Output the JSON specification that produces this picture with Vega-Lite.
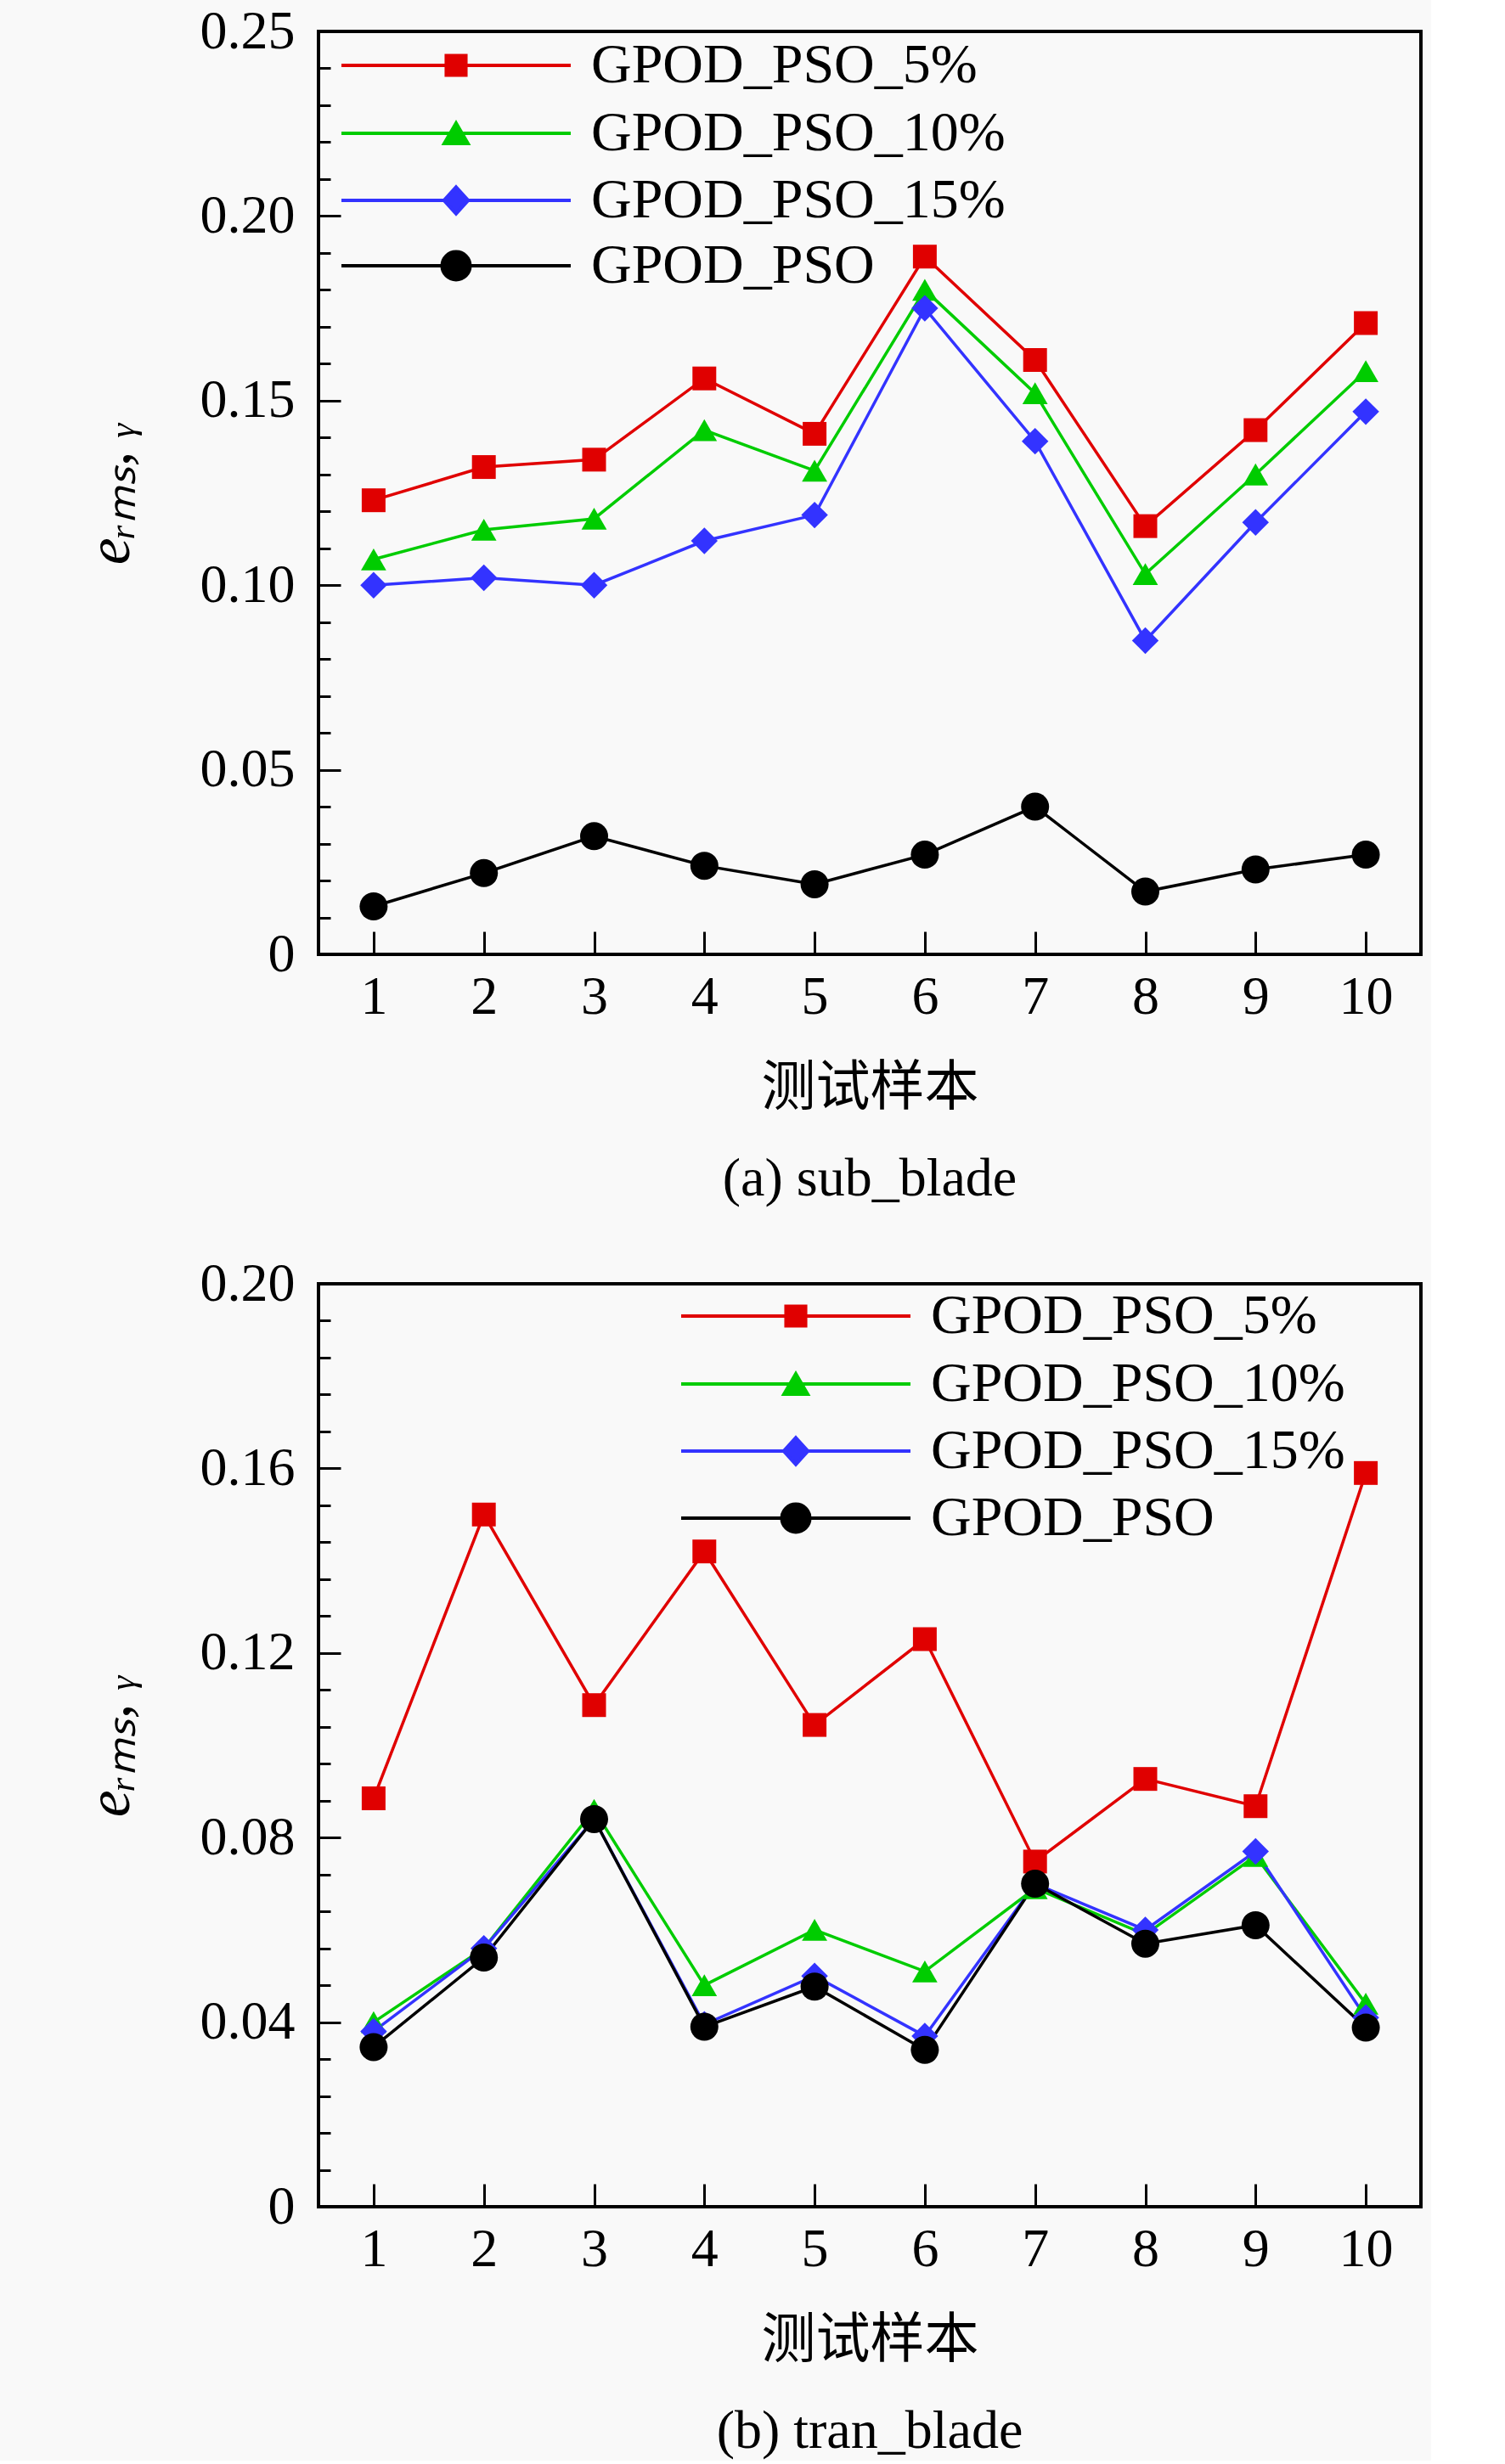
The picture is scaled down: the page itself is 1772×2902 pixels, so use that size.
{
  "$schema": "https://vega.github.io/schema/vega-lite/v6.json",
  "background": "#f9f9f9",
  "padding": {"left": 91, "top": 3, "right": 10, "bottom": 0},
  "spacing": 55,
  "datasets": {
    "a": [
      {"sample": 1, "series": "GPOD_PSO_5%", "value": 0.123},
      {"sample": 2, "series": "GPOD_PSO_5%", "value": 0.132},
      {"sample": 3, "series": "GPOD_PSO_5%", "value": 0.134},
      {"sample": 4, "series": "GPOD_PSO_5%", "value": 0.156},
      {"sample": 5, "series": "GPOD_PSO_5%", "value": 0.141},
      {"sample": 6, "series": "GPOD_PSO_5%", "value": 0.189},
      {"sample": 7, "series": "GPOD_PSO_5%", "value": 0.161},
      {"sample": 8, "series": "GPOD_PSO_5%", "value": 0.116},
      {"sample": 9, "series": "GPOD_PSO_5%", "value": 0.142},
      {"sample": 10, "series": "GPOD_PSO_5%", "value": 0.171},
      {"sample": 1, "series": "GPOD_PSO_10%", "value": 0.107},
      {"sample": 2, "series": "GPOD_PSO_10%", "value": 0.115},
      {"sample": 3, "series": "GPOD_PSO_10%", "value": 0.118},
      {"sample": 4, "series": "GPOD_PSO_10%", "value": 0.142},
      {"sample": 5, "series": "GPOD_PSO_10%", "value": 0.131},
      {"sample": 6, "series": "GPOD_PSO_10%", "value": 0.180},
      {"sample": 7, "series": "GPOD_PSO_10%", "value": 0.152},
      {"sample": 8, "series": "GPOD_PSO_10%", "value": 0.103},
      {"sample": 9, "series": "GPOD_PSO_10%", "value": 0.130},
      {"sample": 10, "series": "GPOD_PSO_10%", "value": 0.158},
      {"sample": 1, "series": "GPOD_PSO_15%", "value": 0.100},
      {"sample": 2, "series": "GPOD_PSO_15%", "value": 0.102},
      {"sample": 3, "series": "GPOD_PSO_15%", "value": 0.100},
      {"sample": 4, "series": "GPOD_PSO_15%", "value": 0.112},
      {"sample": 5, "series": "GPOD_PSO_15%", "value": 0.119},
      {"sample": 6, "series": "GPOD_PSO_15%", "value": 0.175},
      {"sample": 7, "series": "GPOD_PSO_15%", "value": 0.139},
      {"sample": 8, "series": "GPOD_PSO_15%", "value": 0.085},
      {"sample": 9, "series": "GPOD_PSO_15%", "value": 0.117},
      {"sample": 10, "series": "GPOD_PSO_15%", "value": 0.147},
      {"sample": 1, "series": "GPOD_PSO", "value": 0.013},
      {"sample": 2, "series": "GPOD_PSO", "value": 0.022},
      {"sample": 3, "series": "GPOD_PSO", "value": 0.032},
      {"sample": 4, "series": "GPOD_PSO", "value": 0.024},
      {"sample": 5, "series": "GPOD_PSO", "value": 0.019},
      {"sample": 6, "series": "GPOD_PSO", "value": 0.027},
      {"sample": 7, "series": "GPOD_PSO", "value": 0.040},
      {"sample": 8, "series": "GPOD_PSO", "value": 0.017},
      {"sample": 9, "series": "GPOD_PSO", "value": 0.023},
      {"sample": 10, "series": "GPOD_PSO", "value": 0.027}
    ],
    "b": [
      {"sample": 1, "series": "GPOD_PSO_5%", "value": 0.0885},
      {"sample": 2, "series": "GPOD_PSO_5%", "value": 0.150},
      {"sample": 3, "series": "GPOD_PSO_5%", "value": 0.1087},
      {"sample": 4, "series": "GPOD_PSO_5%", "value": 0.142},
      {"sample": 5, "series": "GPOD_PSO_5%", "value": 0.1044},
      {"sample": 6, "series": "GPOD_PSO_5%", "value": 0.123},
      {"sample": 7, "series": "GPOD_PSO_5%", "value": 0.0748},
      {"sample": 8, "series": "GPOD_PSO_5%", "value": 0.0927},
      {"sample": 9, "series": "GPOD_PSO_5%", "value": 0.0868},
      {"sample": 10, "series": "GPOD_PSO_5%", "value": 0.159},
      {"sample": 1, "series": "GPOD_PSO_10%", "value": 0.040},
      {"sample": 2, "series": "GPOD_PSO_10%", "value": 0.056},
      {"sample": 3, "series": "GPOD_PSO_10%", "value": 0.086},
      {"sample": 4, "series": "GPOD_PSO_10%", "value": 0.048},
      {"sample": 5, "series": "GPOD_PSO_10%", "value": 0.060},
      {"sample": 6, "series": "GPOD_PSO_10%", "value": 0.051},
      {"sample": 7, "series": "GPOD_PSO_10%", "value": 0.069},
      {"sample": 8, "series": "GPOD_PSO_10%", "value": 0.059},
      {"sample": 9, "series": "GPOD_PSO_10%", "value": 0.076},
      {"sample": 10, "series": "GPOD_PSO_10%", "value": 0.044},
      {"sample": 1, "series": "GPOD_PSO_15%", "value": 0.038},
      {"sample": 2, "series": "GPOD_PSO_15%", "value": 0.056},
      {"sample": 3, "series": "GPOD_PSO_15%", "value": 0.084},
      {"sample": 4, "series": "GPOD_PSO_15%", "value": 0.0395},
      {"sample": 5, "series": "GPOD_PSO_15%", "value": 0.050},
      {"sample": 6, "series": "GPOD_PSO_15%", "value": 0.037},
      {"sample": 7, "series": "GPOD_PSO_15%", "value": 0.070},
      {"sample": 8, "series": "GPOD_PSO_15%", "value": 0.060},
      {"sample": 9, "series": "GPOD_PSO_15%", "value": 0.077},
      {"sample": 10, "series": "GPOD_PSO_15%", "value": 0.041},
      {"sample": 1, "series": "GPOD_PSO", "value": 0.0346},
      {"sample": 2, "series": "GPOD_PSO", "value": 0.054},
      {"sample": 3, "series": "GPOD_PSO", "value": 0.084},
      {"sample": 4, "series": "GPOD_PSO", "value": 0.039},
      {"sample": 5, "series": "GPOD_PSO", "value": 0.0477},
      {"sample": 6, "series": "GPOD_PSO", "value": 0.034},
      {"sample": 7, "series": "GPOD_PSO", "value": 0.070},
      {"sample": 8, "series": "GPOD_PSO", "value": 0.057},
      {"sample": 9, "series": "GPOD_PSO", "value": 0.061},
      {"sample": 10, "series": "GPOD_PSO", "value": 0.0388}
    ]
  },
  "config": {
    "font": "Liberation Serif, Noto Sans CJK SC",
    "view": {"stroke": "black", "strokeWidth": 4},
    "axis": {
      "grid": false,
      "domain": false,
      "tickColor": "black",
      "tickWidth": 3,
      "labelColor": "black",
      "labelFont": "Liberation Serif",
      "labelFontSize": 64,
      "labelFlush": false,
      "labelOverlap": false,
      "titleColor": "black",
      "titleFontWeight": "normal",
      "zindex": 1
    },
    "legend": {
      "orient": "none",
      "title": null,
      "padding": 0,
      "labelFont": "Liberation Serif",
      "labelFontSize": 66,
      "labelColor": "black",
      "labelLimit": 0,
      "labelOffset": 126,
      "symbolSize": 900,
      "symbolStrokeWidth": 4,
      "symbolOpacity": 1
    }
  },
  "resolve": {
    "scale": {"x": "independent", "y": "independent", "color": "independent", "shape": "independent", "size": "independent"},
    "legend": {"color": "independent", "shape": "independent"}
  },
  "vconcat": [
    {
      "width": 1298,
      "height": 1087,
      "data": {"name": "a"},
      "title": {"text": "(a) sub_blade", "orient": "bottom", "font": "Liberation Serif", "fontSize": 64, "fontWeight": "normal", "color": "black", "offset": 44},
      "encoding": {
        "x": {
          "field": "sample", "type": "quantitative",
          "scale": {"domain": [0.5, 10.5], "nice": false, "zero": false},
          "axis": {"values": [1, 2, 3, 4, 5, 6, 7, 8, 9, 10], "format": "d", "labelAngle": 0, "tickSize": -27, "labelPadding": 45, "title": "测试样本", "titleFont": "Liberation Serif, Noto Sans CJK SC", "titleFontSize": 64, "titlePadding": 43}
        },
        "y": {
          "field": "value", "type": "quantitative",
          "scale": {"domain": [0, 0.25], "nice": false},
          "axis": {
            "values": [0, 0.01, 0.02, 0.03, 0.04, 0.05, 0.06, 0.07, 0.08, 0.09, 0.1, 0.11, 0.12, 0.13, 0.14, 0.15, 0.16, 0.17, 0.18, 0.19, 0.2, 0.21, 0.22, 0.23, 0.24, 0.25],
            "labelExpr": "datum.value == 0 ? '0' : (round(datum.value * 100) % 5 == 0 ? format(datum.value, '.2f') : '')",
            "tickSize": {"condition": {"test": "round(datum.value * 100) % 5 == 0", "value": -26}, "value": -14},
            "labelPadding": 54,
            "title": "eᵣₘₛ, ᵧ",
            "titleFont": "Liberation Serif",
            "titleFontStyle": "italic",
            "titleFontSize": 72,
            "titlePadding": 69
          }
        }
      },
      "resolve": {"scale": {"shape": "independent"}, "legend": {"shape": "independent"}},
      "layer": [
        {
          "mark": {"type": "line", "strokeWidth": 3.5},
          "encoding": {
            "color": {"field": "series", "type": "nominal", "legend": null,
              "scale": {"domain": ["GPOD_PSO_5%", "GPOD_PSO_10%", "GPOD_PSO_15%", "GPOD_PSO"], "range": ["#e00000", "#00cc00", "#3333ff", "#000000"]}}
          }
        },
        {
          "mark": {"type": "point", "filled": true, "opacity": 1},
          "encoding": {
            "color": {"field": "series", "type": "nominal", "legend": null,
              "scale": {"domain": ["GPOD_PSO_5%", "GPOD_PSO_10%", "GPOD_PSO_15%", "GPOD_PSO"], "range": ["#e00000", "#00cc00", "#3333ff", "#000000"]}},
            "shape": {"field": "series", "type": "nominal", "legend": null,
              "scale": {"domain": ["GPOD_PSO_5%", "GPOD_PSO_10%", "GPOD_PSO_15%", "GPOD_PSO"], "range": ["square", "triangle-up", "diamond", "circle"]}},
            "size": {"field": "series", "type": "nominal", "legend": null,
              "scale": {"domain": ["GPOD_PSO_5%", "GPOD_PSO_10%", "GPOD_PSO_15%", "GPOD_PSO"], "range": [784, 1089, 1156, 1444]}}
          }
        },
        {
          "transform": [{"filter": "false"}],
          "mark": {"type": "point", "filled": true, "color": "#e00000", "stroke": "#e00000", "strokeWidth": 4, "opacity": 1},
          "encoding": {
            "shape": {"field": "series", "type": "nominal",
              "scale": {"domain": ["GPOD_PSO_5%"], "range": ["M-9,0H9M-0.77,-0.77H0.77V0.77H-0.77Z"]},
              "legend": {"legendX": 129, "legendY": 7}}
          }
        },
        {
          "transform": [{"filter": "false"}],
          "mark": {"type": "point", "filled": true, "color": "#00cc00", "stroke": "#00cc00", "strokeWidth": 4, "opacity": 1},
          "encoding": {
            "shape": {"field": "series", "type": "nominal",
              "scale": {"domain": ["GPOD_PSO_10%"], "range": ["M-9,0H9M0,-0.8L0.93,0.8L-0.93,0.8Z"]},
              "legend": {"legendX": 129, "legendY": 87}}
          }
        },
        {
          "transform": [{"filter": "false"}],
          "mark": {"type": "point", "filled": true, "color": "#3333ff", "stroke": "#3333ff", "strokeWidth": 4, "opacity": 1},
          "encoding": {
            "shape": {"field": "series", "type": "nominal",
              "scale": {"domain": ["GPOD_PSO_15%"], "range": ["M-9,0H9M0,-1.05L0.95,0L0,1.05L-0.95,0Z"]},
              "legend": {"legendX": 129, "legendY": 166}}
          }
        },
        {
          "transform": [{"filter": "false"}],
          "mark": {"type": "point", "filled": true, "color": "#000000", "stroke": "#000000", "strokeWidth": 4, "opacity": 1},
          "encoding": {
            "shape": {"field": "series", "type": "nominal",
              "scale": {"domain": ["GPOD_PSO"], "range": ["M-9,0H9M-1.1,0A1.1,1.1 0 1,0 1.1,0A1.1,1.1 0 1,0 -1.1,0Z"]},
              "legend": {"legendX": 129, "legendY": 243}}
          }
        }
      ]
    },
    {
      "width": 1298,
      "height": 1087,
      "data": {"name": "b"},
      "title": {"text": "(b) tran_blade", "orient": "bottom", "font": "Liberation Serif", "fontSize": 64, "fontWeight": "normal", "color": "black", "offset": 44},
      "encoding": {
        "x": {
          "field": "sample", "type": "quantitative",
          "scale": {"domain": [0.5, 10.5], "nice": false, "zero": false},
          "axis": {"values": [1, 2, 3, 4, 5, 6, 7, 8, 9, 10], "format": "d", "labelAngle": 0, "tickSize": -27, "labelPadding": 45, "title": "测试样本", "titleFont": "Liberation Serif, Noto Sans CJK SC", "titleFontSize": 64, "titlePadding": 43}
        },
        "y": {
          "field": "value", "type": "quantitative",
          "scale": {"domain": [0, 0.2], "nice": false},
          "axis": {
            "values": [0, 0.008, 0.016, 0.024, 0.032, 0.04, 0.048, 0.056, 0.064, 0.072, 0.08, 0.088, 0.096, 0.104, 0.112, 0.12, 0.128, 0.136, 0.144, 0.152, 0.16, 0.168, 0.176, 0.184, 0.192, 0.2],
            "labelExpr": "datum.value == 0 ? '0' : (round(datum.value * 1000) % 40 == 0 ? format(datum.value, '.2f') : '')",
            "tickSize": {"condition": {"test": "round(datum.value * 1000) % 40 == 0", "value": -26}, "value": -14},
            "labelPadding": 54,
            "title": "eᵣₘₛ, ᵧ",
            "titleFont": "Liberation Serif",
            "titleFontStyle": "italic",
            "titleFontSize": 72,
            "titlePadding": 69
          }
        }
      },
      "resolve": {"scale": {"shape": "independent"}, "legend": {"shape": "independent"}},
      "layer": [
        {
          "mark": {"type": "line", "strokeWidth": 3.5},
          "encoding": {
            "color": {"field": "series", "type": "nominal", "legend": null,
              "scale": {"domain": ["GPOD_PSO_5%", "GPOD_PSO_10%", "GPOD_PSO_15%", "GPOD_PSO"], "range": ["#e00000", "#00cc00", "#3333ff", "#000000"]}}
          }
        },
        {
          "mark": {"type": "point", "filled": true, "opacity": 1},
          "encoding": {
            "color": {"field": "series", "type": "nominal", "legend": null,
              "scale": {"domain": ["GPOD_PSO_5%", "GPOD_PSO_10%", "GPOD_PSO_15%", "GPOD_PSO"], "range": ["#e00000", "#00cc00", "#3333ff", "#000000"]}},
            "shape": {"field": "series", "type": "nominal", "legend": null,
              "scale": {"domain": ["GPOD_PSO_5%", "GPOD_PSO_10%", "GPOD_PSO_15%", "GPOD_PSO"], "range": ["square", "triangle-up", "diamond", "circle"]}},
            "size": {"field": "series", "type": "nominal", "legend": null,
              "scale": {"domain": ["GPOD_PSO_5%", "GPOD_PSO_10%", "GPOD_PSO_15%", "GPOD_PSO"], "range": [784, 1089, 1156, 1444]}}
          }
        },
        {
          "transform": [{"filter": "false"}],
          "mark": {"type": "point", "filled": true, "color": "#e00000", "stroke": "#e00000", "strokeWidth": 4, "opacity": 1},
          "encoding": {
            "shape": {"field": "series", "type": "nominal",
              "scale": {"domain": ["GPOD_PSO_5%"], "range": ["M-9,0H9M-0.77,-0.77H0.77V0.77H-0.77Z"]},
              "legend": {"legendX": 529, "legendY": 5}}
          }
        },
        {
          "transform": [{"filter": "false"}],
          "mark": {"type": "point", "filled": true, "color": "#00cc00", "stroke": "#00cc00", "strokeWidth": 4, "opacity": 1},
          "encoding": {
            "shape": {"field": "series", "type": "nominal",
              "scale": {"domain": ["GPOD_PSO_10%"], "range": ["M-9,0H9M0,-0.8L0.93,0.8L-0.93,0.8Z"]},
              "legend": {"legendX": 529, "legendY": 85}}
          }
        },
        {
          "transform": [{"filter": "false"}],
          "mark": {"type": "point", "filled": true, "color": "#3333ff", "stroke": "#3333ff", "strokeWidth": 4, "opacity": 1},
          "encoding": {
            "shape": {"field": "series", "type": "nominal",
              "scale": {"domain": ["GPOD_PSO_15%"], "range": ["M-9,0H9M0,-1.05L0.95,0L0,1.05L-0.95,0Z"]},
              "legend": {"legendX": 529, "legendY": 164}}
          }
        },
        {
          "transform": [{"filter": "false"}],
          "mark": {"type": "point", "filled": true, "color": "#000000", "stroke": "#000000", "strokeWidth": 4, "opacity": 1},
          "encoding": {
            "shape": {"field": "series", "type": "nominal",
              "scale": {"domain": ["GPOD_PSO"], "range": ["M-9,0H9M-1.1,0A1.1,1.1 0 1,0 1.1,0A1.1,1.1 0 1,0 -1.1,0Z"]},
              "legend": {"legendX": 529, "legendY": 243}}
          }
        }
      ]
    }
  ]
}
